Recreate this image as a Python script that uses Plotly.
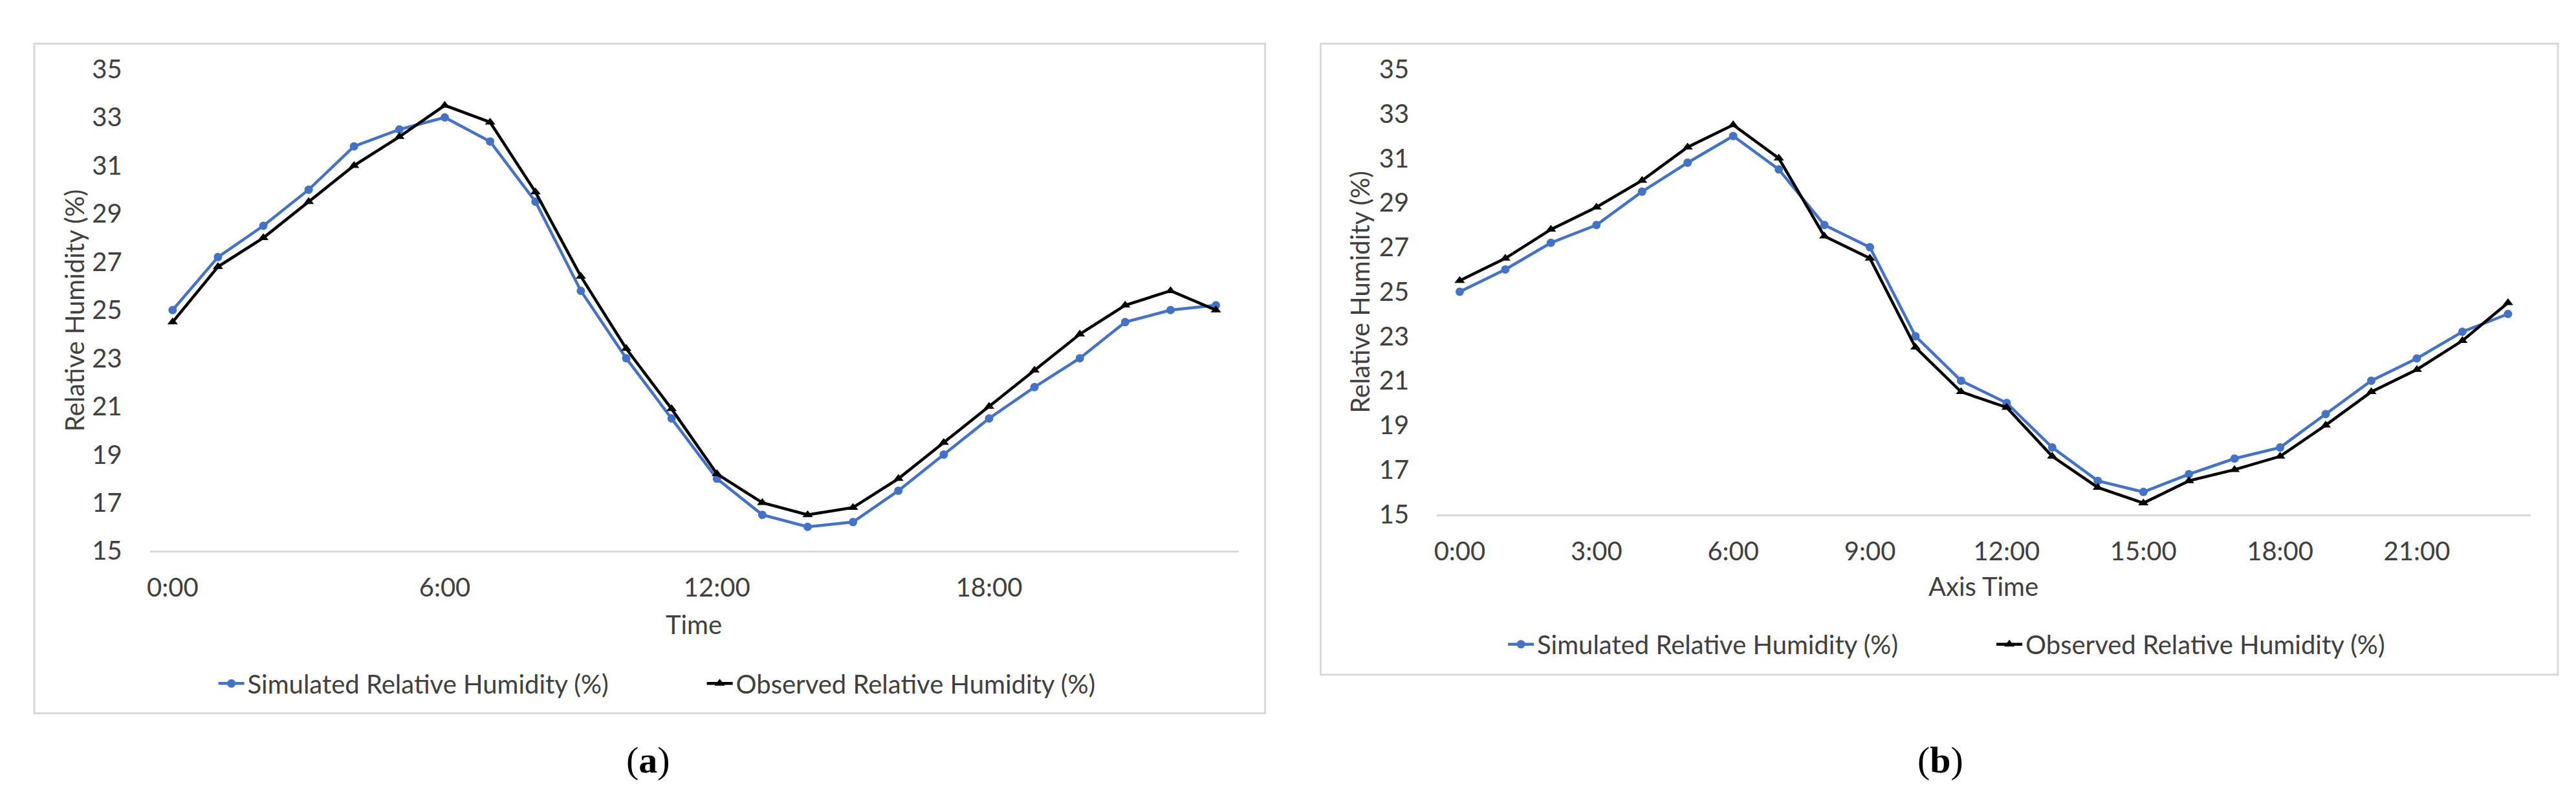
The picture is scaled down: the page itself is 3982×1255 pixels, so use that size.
"""
Humedad relativa simulada vs observada, dos paneles (a) y (b).
"""

import plotly.graph_objects as go

HORAS = [
    "0:00", "1:00", "2:00", "3:00", "4:00", "5:00", "6:00", "7:00",
    "8:00", "9:00", "10:00", "11:00", "12:00", "13:00", "14:00", "15:00",
    "16:00", "17:00", "18:00", "19:00", "20:00", "21:00", "22:00", "23:00",
]

# Panel (a)
SIM_A = [25.0, 27.2, 28.5, 30.0, 31.8, 32.5, 33.0, 32.0, 29.5, 25.8, 23.0, 20.5,
         18.0, 16.5, 16.0, 16.2, 17.5, 19.0, 20.5, 21.8, 23.0, 24.5, 25.0, 25.2]
OBS_A = [24.5, 26.8, 28.0, 29.5, 31.0, 32.2, 33.5, 32.8, 29.9, 26.4, 23.4, 20.9,
         18.2, 17.0, 16.5, 16.8, 18.0, 19.5, 21.0, 22.5, 24.0, 25.2, 25.8, 25.0]
TICKS_A = ["0:00", "6:00", "12:00", "18:00"]

# Panel (b)
SIM_B = [25.0, 26.0, 27.2, 28.0, 29.5, 30.8, 32.0, 30.5, 28.0, 27.0, 23.0, 21.0,
         20.0, 18.0, 16.5, 16.0, 16.8, 17.5, 18.0, 19.5, 21.0, 22.0, 23.2, 24.0]
OBS_B = [25.5, 26.5, 27.8, 28.8, 30.0, 31.5, 32.5, 31.0, 27.5, 26.5, 22.5, 20.5,
         19.8, 17.6, 16.2, 15.5, 16.5, 17.0, 17.6, 19.0, 20.5, 21.5, 22.8, 24.5]
TICKS_B = ["0:00", "3:00", "6:00", "9:00", "12:00", "15:00", "18:00", "21:00"]

Y_TICKS = [15, 17, 19, 21, 23, 25, 27, 29, 31, 33, 35]

ANCHO, ALTO = 3982, 1255
AZUL = "#4472C4"
NEGRO = "#000000"
GRIS_TEXTO = "#404040"
GRIS_BORDE = "#d9d9d9"
FUENTE = "Lato"
TAM = 40


def px_x(v):
    return v / ANCHO


def px_y(v):
    return 1 - v / ALTO


fig = go.Figure()

paneles = [
    # sufijo, sim, obs, ticks, dominio x (px), dominio y (px), leyenda
    ("", SIM_A, OBS_A, TICKS_A, (219, 1904), (77, 851), "legend"),
    ("2", SIM_B, OBS_B, TICKS_B, (2211, 3904), (77, 792), "legend2"),
]

for suf, sim, obs, ticks, dx, dy, leyenda in paneles:
    fig.add_trace(go.Scatter(
        x=HORAS, y=sim, mode="lines+markers",
        name="Simulated Relative Humidity (%)",
        line=dict(color=AZUL, width=4.5),
        marker=dict(symbol="circle", size=13, color=AZUL),
        xaxis="x" + suf, yaxis="y" + suf, legend=leyenda,
    ))
    fig.add_trace(go.Scatter(
        x=HORAS, y=obs, mode="lines+markers",
        name="Observed Relative Humidity (%)",
        line=dict(color=NEGRO, width=4.5),
        marker=dict(symbol="triangle-up", size=14, color=NEGRO),
        xaxis="x" + suf, yaxis="y" + suf, legend=leyenda,
    ))
    fig.update_layout({
        "xaxis" + suf: dict(
            domain=[px_x(dx[0]), px_x(dx[1])],
            anchor="y" + suf, type="category",
            range=[-0.5, len(HORAS) - 0.5],
            tickmode="array", tickvals=ticks, ticktext=ticks,
            showgrid=False, zeroline=False,
            showline=True, linecolor=GRIS_BORDE, linewidth=3,
            ticks="outside", ticklen=20, tickcolor="rgba(0,0,0,0)",
            tickfont=dict(family=FUENTE, size=TAM, color=GRIS_TEXTO),
        ),
        "yaxis" + suf: dict(
            domain=[px_y(dy[1]), px_y(dy[0])],
            anchor="x" + suf, range=[15, 35],
            tickmode="array", tickvals=Y_TICKS,
            showgrid=False, zeroline=False, showline=False,
            ticks="outside", ticklen=34, tickcolor="rgba(0,0,0,0)",
            tickfont=dict(family=FUENTE, size=TAM, color=GRIS_TEXTO),
        ),
    })

leyenda_base = dict(
    orientation="h", xanchor="left", yanchor="middle",
    font=dict(family=FUENTE, size=TAM, color=GRIS_TEXTO),
    bgcolor="rgba(0,0,0,0)", itemwidth=40,
    entrywidth=700, entrywidthmode="pixels",
)
fig.update_layout(
    legend=dict(leyenda_base, x=px_x(320), y=px_y(1064)),
    legend2=dict(leyenda_base, x=px_x(2316), y=px_y(1001)),
)

# marcos de cada panel
for x0, y0, x1, y1 in [(40, 36, 1945, 1112), (2031, 36, 3946, 1050)]:
    fig.add_shape(
        type="rect", xref="paper", yref="paper",
        x0=px_x(x0), x1=px_x(x1), y0=px_y(y1), y1=px_y(y0),
        line=dict(color=GRIS_BORDE, width=3), layer="below",
    )

titulos = [
    ("Time", 1061, 969, 0),
    ("Axis Time", 3057, 908, 0),
    ("Relative Humidity (%)", 102, 464, -90),
    ("Relative Humidity (%)", 2092, 435, -90),
]
for texto, x, y, ang in titulos:
    fig.add_annotation(
        text=texto, x=px_x(x), y=px_y(y), xref="paper", yref="paper",
        showarrow=False, textangle=ang, xanchor="center", yanchor="middle",
        font=dict(family=FUENTE, size=TAM, color=GRIS_TEXTO),
    )

for texto, x in [("(<b>a</b>)", 990), ("(<b>b</b>)", 2990)]:
    fig.add_annotation(
        text=texto, x=px_x(x), y=px_y(1187), xref="paper", yref="paper",
        showarrow=False, xanchor="center", yanchor="middle",
        font=dict(family="Liberation Serif", size=58, color="#000000"),
    )

fig.update_layout(
    width=ANCHO, height=ALTO, autosize=False,
    margin=dict(l=0, r=0, t=0, b=0),
    paper_bgcolor="white", plot_bgcolor="white",
    showlegend=True,
)

fig.write_html("out.html")
